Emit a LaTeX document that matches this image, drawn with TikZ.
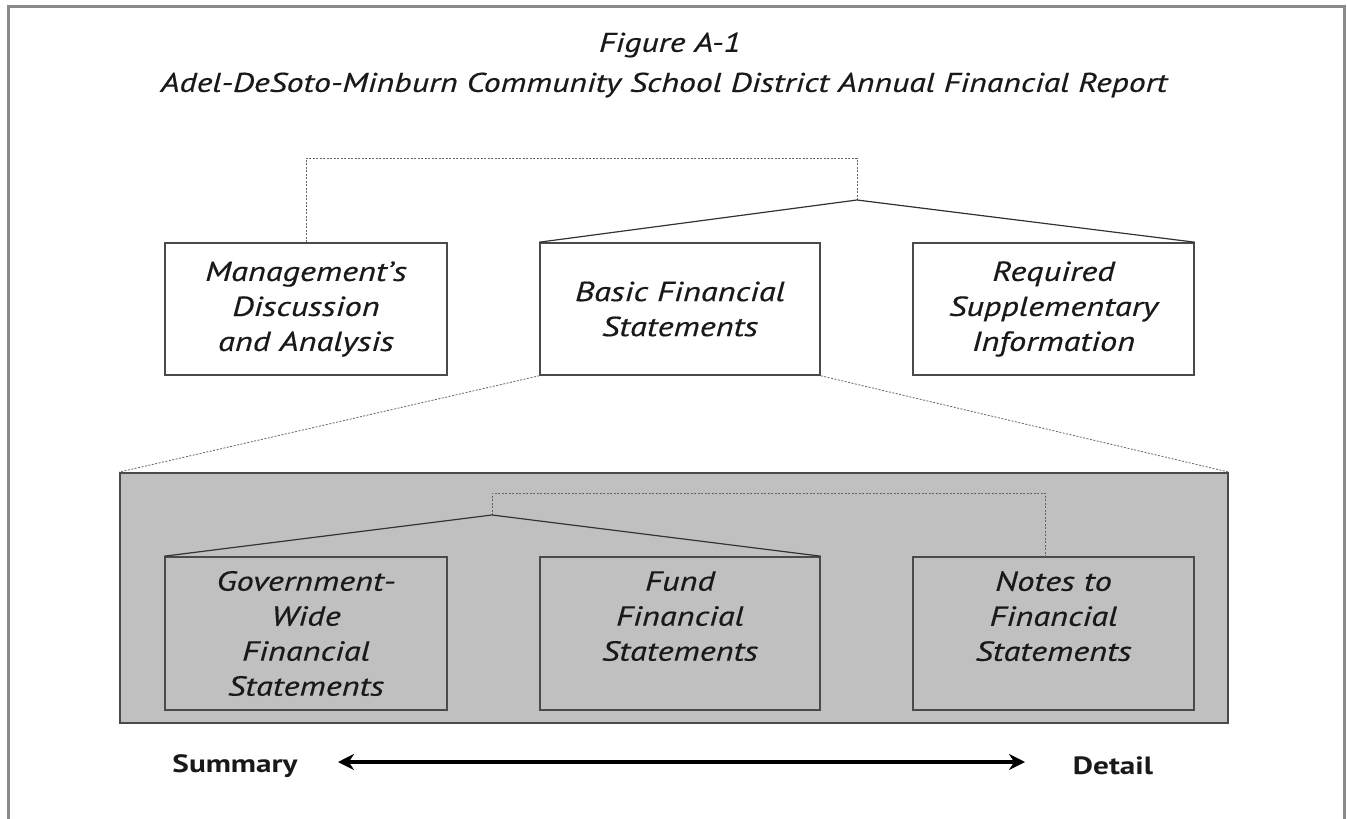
\documentclass[tikz,border=0pt]{standalone}
\usepackage{fontspec}
\setmainfont{PT Sans}[FakeStretch=1.25, ItalicFeatures={FakeBold=0.5}]
\usetikzlibrary{arrows.meta}
\definecolor{fillgray}{HTML}{C0C0C0}
\definecolor{edgegray}{HTML}{4A4A4A}
\definecolor{framegray}{HTML}{8A8A8A}
\tikzset{
  boxtext/.style={font=\fontsize{27.5}{35}\selectfont\itshape, align=center, text=black!90},
  wbox/.style={boxtext, draw=edgegray, line width=1.6pt, fill=white, minimum width=282pt, minimum height=132pt, inner sep=0pt},
  gbox/.style={boxtext, draw=edgegray, line width=1.6pt, fill=fillgray, minimum width=282pt, minimum height=153pt, inner sep=0pt},
  dashline/.style={draw=black!60, line width=0.8pt, dash pattern=on 2pt off 1.5pt},
  solidline/.style={draw=black!80, line width=1.2pt},
  endlabel/.style={font=\fontsize{25}{30}\selectfont\bfseries, text=black!90}
}
\begin{document}
\begin{tikzpicture}[x=1pt,y=-1pt]
\useasboundingbox (0,0) rectangle (1347,819);
\fill[white] (0,0) rectangle (1347,819);
% outer frame
\draw[framegray, line width=3pt] (8,822) -- (8,6) -- (1344,6) -- (1344,822);
% title
\node[font=\fontsize{27}{30}\selectfont\itshape, text=black!90] (t1) at (670,45) {Figure A-1};
\node[font=\fontsize{27}{30}\selectfont\itshape, text=black!90] (t2) at (664,85) {Adel-DeSoto-Minburn Community School District Annual Financial Report};
% gray group
\node[draw=edgegray, line width=1.8pt, fill=fillgray, minimum width=1108pt, minimum height=250pt, inner sep=0pt] (grp) at (674,598) {};
% top boxes
\node[wbox] (mda) at (306,309) {Management's\\Discussion\\and Analysis};
\node[wbox, minimum width=280pt] (basic) at (680,309) {Basic Financial\\Statements};
\node[wbox, minimum width=281pt] (rsi) at (1053.5,309) {Required\\Supplementary\\Information};
% bottom boxes
\node[gbox] (gov) at (306,633.5) {Government-\\Wide\\Financial\\Statements};
\node[gbox, minimum width=280pt] (fund) at (680,633.5) {Fund\\Financial\\Statements\\[0pt]\mbox{}};
\node[gbox, minimum width=281pt] (notes) at (1053.5,633.5) {Notes to\\Financial\\Statements\\[0pt]\mbox{}};
% top connectors
\coordinate (apex) at (857,200);
\coordinate (tbar) at (857,158);
\draw[dashline] (mda.north) |- (tbar) -- (apex);
\draw[solidline] (basic.north west) -- (apex) -- (rsi.north east);
% zoom lines
\draw[dashline] (basic.south west) -- (grp.north west);
\draw[dashline] (basic.south east) -- (grp.north east);
% inner connectors
\coordinate (apex2) at (492,515);
\coordinate (tbar2) at (492,493);
\coordinate (ntop) at (1045,557);
\draw[dashline] (apex2) -- (tbar2) -| (ntop);
\draw[solidline] (gov.north west) -- (apex2) -- (fund.north east);
% summary/detail
\node[endlabel] (sum) at (235,766) {Summary};
\node[endlabel] (det) at (1113,766) {Detail};
\coordinate (al) at (338,762);
\coordinate (ar) at (1025,762);
\draw[line width=4pt, {Stealth[length=16pt,width=16pt]}-{Stealth[length=16pt,width=16pt]}] (al) -- (ar);
\end{tikzpicture}
\end{document}
